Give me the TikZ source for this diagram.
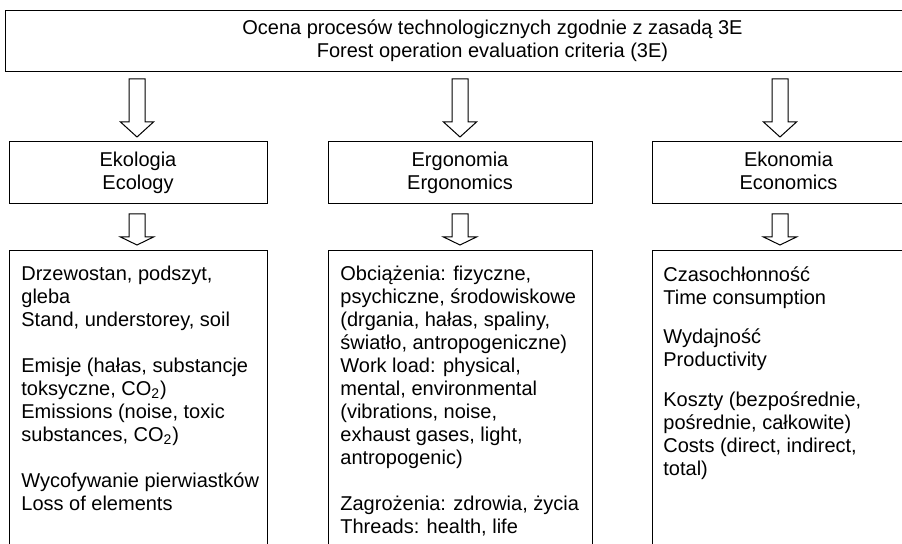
\documentclass[tikz,border=0pt]{standalone}
\usepackage{fontspec}
\setmainfont{Liberation Sans}
\begin{document}
\begin{tikzpicture}[x=0.5pt,y=-0.5pt,
  txt/.style={font=\fontsize{10}{11.5}\selectfont},
  boxn/.style={draw=black,line width=0.5pt,inner sep=0pt,txt,align=center},
  listtext/.style={inner sep=0pt,anchor=north west,align=left,txt},
  blockarrow/.style={draw=black,line width=0.5pt,fill=white,line join=miter}]
\useasboundingbox (0,0) rectangle (902,544);
\clip (0,0) rectangle (902,544);
% top box
\node[boxn,minimum width=487.5pt,minimum height=30.5pt] (top) at (492.5,41.5)
  {\strut Ocena procesów technologicznych zgodnie z zasadą 3E\\\strut Forest operation evaluation criteria (3E)};
% category boxes
\node[boxn,minimum width=129pt,minimum height=31pt] (eko) at (138,173) {\strut Ekologia\\\strut Ecology};
\node[boxn,minimum width=132pt,minimum height=31pt] (erg) at (460,173) {\strut Ergonomia\\\strut Ergonomics};
\node[boxn,minimum width=136.5pt,minimum height=31pt] (ekn) at (788.5,173) {\strut Ekonomia\\\strut Economics};
% bottom boxes
\node[boxn,minimum width=129pt,minimum height=174.5pt] (ekoL) at (138,425.5) {};
\node[boxn,minimum width=132pt,minimum height=174.5pt] (ergL) at (460,425.5) {};
\node[boxn,minimum width=136.5pt,minimum height=174.5pt] (eknL) at (788.5,425.5) {};
% block arrows
\foreach \c in {137,460,780}{
  \draw[blockarrow] (\c-8,79) -- (\c+8,79) -- (\c+8,122) -- (\c+16.5,122) -- (\c,137)
     -- (\c-16.5,122) -- (\c-8,122) -- cycle;
  \draw[blockarrow] (\c-8,214) -- (\c+8,214) -- (\c+8,237) -- (\c+16.5,237) -- (\c,245)
     -- (\c-16.5,237) -- (\c-8,237) -- cycle;
}
% list texts
\node[listtext] (ekoT) at (21,266) {Drzewostan, podszyt,\\gleba\\Stand, understorey, soil\\[11.5pt]
Emisje (hałas, substancje\\toksyczne, CO\textsubscript{2})\\Emissions (noise, toxic\\substances, CO\textsubscript{2})\\[11.5pt]
Wycofywanie pierwiastków\\Loss of elements};
\node[listtext] (ergT) at (340,266) {Obciążenia: fizyczne,\\psychiczne, środowiskowe\\(drgania, hałas, spaliny,\\światło, antropogeniczne)\\Work load: physical,\\mental, environmental\\(vibrations, noise,\\exhaust gases, light,\\antropogenic)\\[11.5pt]
Zagrożenia: zdrowia, życia\\Threads: health, life};
\node[listtext] (eknT) at (663,266) {Czasochłonność\\Time consumption\\[8.4pt]
Wydajność\\Productivity\\[8.4pt]
Koszty (bezpośrednie,\\pośrednie, całkowite)\\Costs (direct, indirect,\\total)};
\end{tikzpicture}
\end{document}
